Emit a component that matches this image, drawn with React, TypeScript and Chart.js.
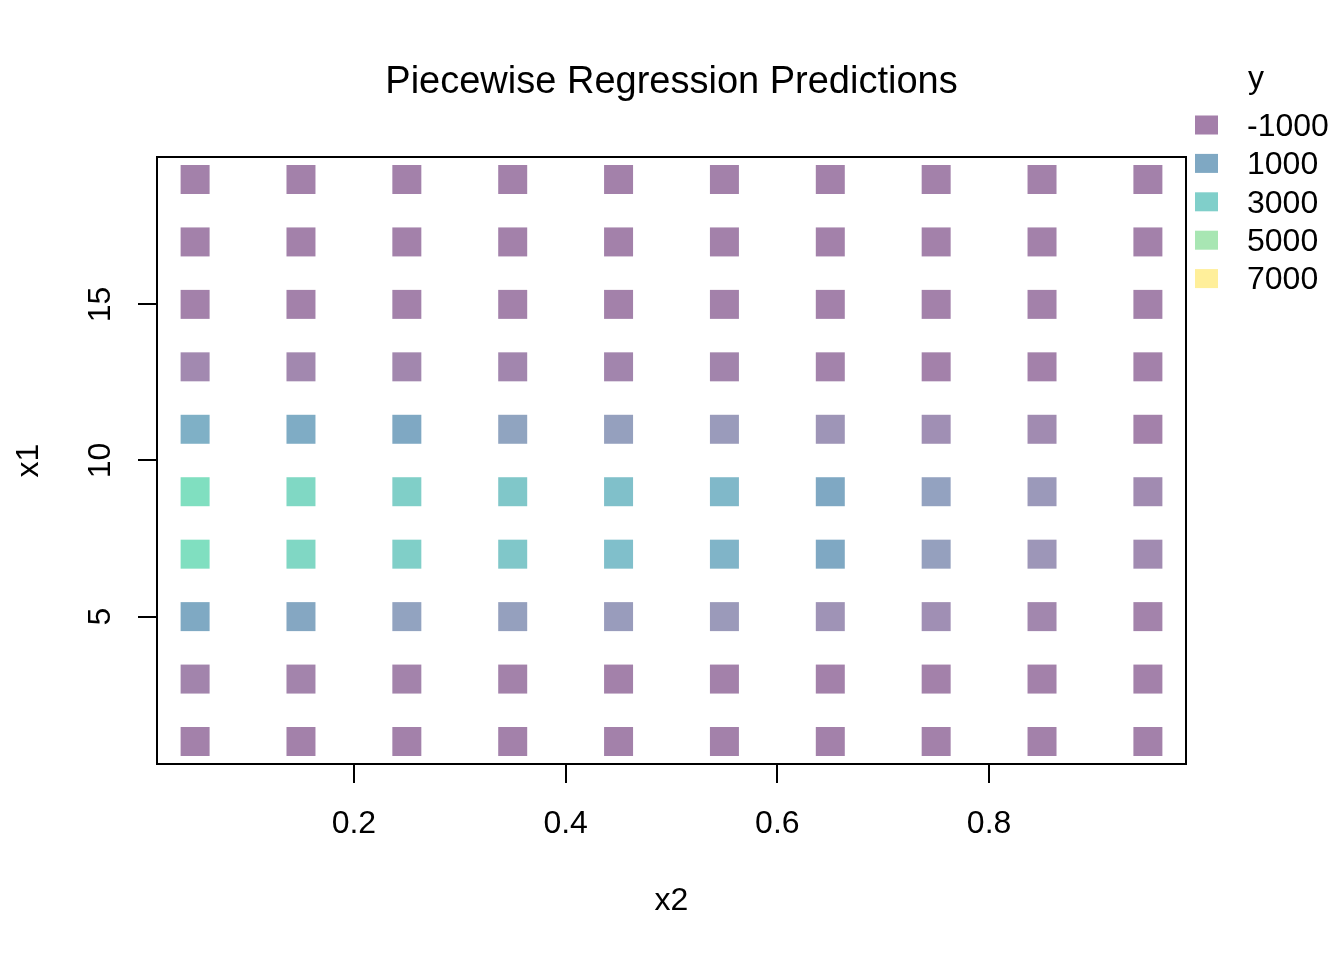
import React, { useEffect, useRef } from 'react';
import { Chart, registerables } from 'chart.js';

Chart.register(...registerables);

// grid of the predictions
const x2Values = [0.05, 0.15, 0.25, 0.35, 0.45, 0.55, 0.65, 0.75, 0.85, 0.95];
const x1Values = [1, 3, 5, 7, 9, 11, 13, 15, 17, 19];

// predicted y, one row per x1 value (same order as x1Values), columns follow x2Values
const yAtX1_1 = [-1000, -1000, -1000, -1000, -1000, -1000, -1000, -1000, -1000, -1000];
const yAtX1_3 = [-900, -920, -950, -980, -1000, -1000, -1000, -1000, -1000, -1000];
const yAtX1_5 = [1050, 850, 500, 300, 50, -50, -400, -550, -800, -950];
const yAtX1_7 = [4000, 3500, 3000, 2600, 2150, 1600, 1000, 300, -250, -700];
const yAtX1_9 = [4000, 3550, 3000, 2600, 2200, 1800, 1000, 450, -100, -700];
const yAtX1_11 = [1400, 1200, 1000, 550, 300, 0, -300, -550, -700, -1000];
const yAtX1_13 = [-750, -780, -800, -830, -860, -900, -950, -1000, -1000, -1000];
const yAtX1_15 = [-1000, -1000, -1000, -1000, -1000, -1000, -1000, -1000, -1000, -1000];
const yAtX1_17 = [-1000, -1000, -1000, -1000, -1000, -1000, -1000, -1000, -1000, -1000];
const yAtX1_19 = [-1000, -1000, -1000, -1000, -1000, -1000, -1000, -1000, -1000, -1000];
const yRows = [yAtX1_1, yAtX1_3, yAtX1_5, yAtX1_7, yAtX1_9, yAtX1_11, yAtX1_13, yAtX1_15, yAtX1_17, yAtX1_19];

// axis ticks and legend key
const x2Ticks = [0.2, 0.4, 0.6, 0.8];
const x1Ticks = [5, 10, 15];
const legendBreaks = [-1000, 1000, 3000, 5000, 7000];
const legendColours = ['#A47FAA', '#7FA8C3', '#80CFCA', '#A8E6B3', '#FFEF9A'];

// colour ramp (semi-transparent viridis on white)
const rampValues = [-1000, -500, 0, 500, 1000, 2000, 3000, 4000, 5000, 7000];
const rampColours = ['#A381AA', '#A091B5', '#9A9BBB', '#92A3C0', '#7FA8C3', '#80BCCB', '#80CFC8', '#80DFC0', '#A8E6B3', '#FFEF9A'];

const FONT = '"Liberation Sans", Arial, Helvetica, sans-serif';

function hexToRgb(h: string) {
  const n = parseInt(h.slice(1), 16);
  return [(n >> 16) & 255, (n >> 8) & 255, n & 255];
}

function colourFor(v: number) {
  if (v <= rampValues[0]) return rampColours[0];
  for (let i = 1; i < rampValues.length; i++) {
    if (v <= rampValues[i]) {
      const t = (v - rampValues[i - 1]) / (rampValues[i] - rampValues[i - 1]);
      const a = hexToRgb(rampColours[i - 1]);
      const b = hexToRgb(rampColours[i]);
      const c = a.map((ch, k) => Math.round(ch + (b[k] - ch) * t));
      return `rgb(${c[0]},${c[1]},${c[2]})`;
    }
  }
  return rampColours[rampColours.length - 1];
}

const decorPlugin = {
  id: 'decor',
  afterDraw(chart: any) {
    const { ctx, chartArea } = chart;
    const yScale = chart.scales.y;
    ctx.save();
    // box
    ctx.strokeStyle = '#000';
    ctx.lineWidth = 2;
    ctx.strokeRect(chartArea.left, chartArea.top, chartArea.right - chartArea.left, chartArea.bottom - chartArea.top);

    ctx.fillStyle = '#000';
    // title
    ctx.font = `38px ${FONT}`;
    ctx.textAlign = 'center';
    ctx.textBaseline = 'alphabetic';
    ctx.fillText('Piecewise Regression Predictions', (chartArea.left + chartArea.right) / 2, 93);

    // y tick labels, rotated
    ctx.font = `32px ${FONT}`;
    ctx.textBaseline = 'middle';
    x1Ticks.forEach((v) => {
      const py = yScale.getPixelForValue(v);
      ctx.save();
      ctx.translate(101, py);
      ctx.rotate(-Math.PI / 2);
      ctx.fillText(String(v), 0, 0);
      ctx.restore();
    });

    // axis titles
    ctx.fillText('x2', (chartArea.left + chartArea.right) / 2, 901);
    ctx.save();
    ctx.translate(29, (chartArea.top + chartArea.bottom) / 2);
    ctx.rotate(-Math.PI / 2);
    ctx.fillText('x1', 0, 0);
    ctx.restore();

    // legend
    ctx.textAlign = 'left';
    ctx.textBaseline = 'alphabetic';
    ctx.fillText('y', 1248, 88);
    ctx.textBaseline = 'middle';
    legendBreaks.forEach((b, i) => {
      const cy = 125 + i * 38.4;
      ctx.fillStyle = legendColours[i];
      ctx.fillRect(1195, cy - 9.5, 23, 19);
      ctx.fillStyle = '#000';
      ctx.fillText(String(b), 1247, cy + 2);
    });
    ctx.restore();
  },
};

export default function App() {
  const canvasRef = useRef<HTMLCanvasElement>(null);
  const chartRef = useRef<Chart | null>(null);

  useEffect(() => {
    document.body.style.margin = '0';
    if (!canvasRef.current) return;
    if (chartRef.current) chartRef.current.destroy();

    const points: { x: number; y: number }[] = [];
    const colours: string[] = [];
    x1Values.forEach((x1, r) => {
      x2Values.forEach((x2, c) => {
        points.push({ x: x2, y: x1 });
        colours.push(colourFor(yRows[r][c]));
      });
    });

    chartRef.current = new Chart(canvasRef.current, {
      type: 'scatter',
      data: {
        datasets: [
          {
            data: points,
            backgroundColor: colours,
            pointStyle: 'rect',
            pointRadius: 20.5,
            pointBorderWidth: 0,
            borderWidth: 0,
          },
        ],
      },
      options: {
        animation: false,
        responsive: false,
        devicePixelRatio: 1,
        events: [],
        layout: { padding: { top: 157, right: 158, left: 0, bottom: 0 } },
        plugins: { legend: { display: false }, tooltip: { enabled: false }, title: { display: false } },
        scales: {
          x: {
            type: 'linear',
            min: 0.014,
            max: 0.986,
            afterBuildTicks: (s: any) => {
              s.ticks = x2Ticks.map((v) => ({ value: v }));
            },
            afterFit: (s: any) => {
              s.height = 196;
            },
            ticks: {
              color: '#000',
              font: { family: FONT, size: 32 },
              padding: 22,
              maxRotation: 0,
              callback: (v: any) => String(v),
            },
            grid: { drawOnChartArea: false, drawTicks: true, tickLength: 19, color: '#000', lineWidth: 2 },
            border: { display: false },
          },
          y: {
            type: 'linear',
            min: 0.28,
            max: 19.72,
            afterBuildTicks: (s: any) => {
              s.ticks = x1Ticks.map((v) => ({ value: v }));
            },
            afterFit: (s: any) => {
              s.width = 157;
            },
            ticks: { display: false },
            grid: { drawOnChartArea: false, drawTicks: true, tickLength: 19, color: '#000', lineWidth: 2 },
            border: { display: false },
          },
        },
      },
      plugins: [decorPlugin],
    });

    return () => {
      if (chartRef.current) {
        chartRef.current.destroy();
        chartRef.current = null;
      }
    };
  }, []);

  return (
    <div style={{ width: 1344, height: 960, background: '#fff' }}>
      <canvas ref={canvasRef} width={1344} height={960}></canvas>
    </div>
  );
}
